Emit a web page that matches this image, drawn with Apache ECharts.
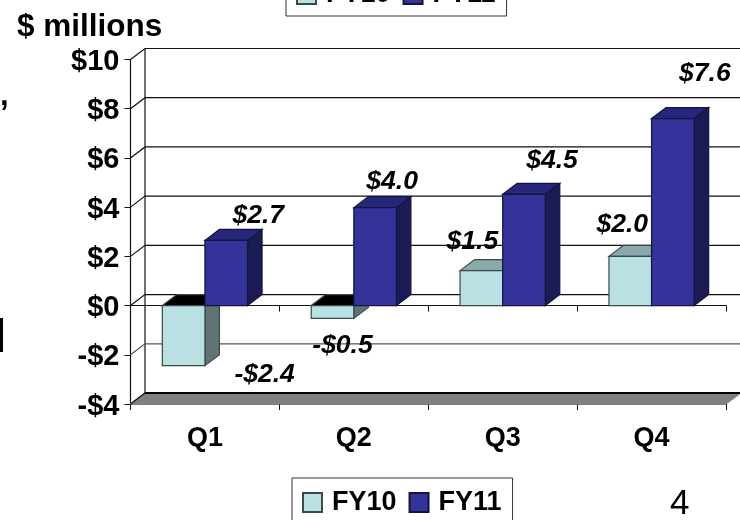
<!DOCTYPE html>
<html>
<head>
<meta charset="utf-8">
<style>
  html, body { margin: 0; padding: 0; background: #fff; }
  #chart { width: 740px; height: 520px; }
</style>
<script src="https://cdn.jsdelivr.net/npm/echarts@6/dist/echarts.min.js"></script>
</head>
<body>
<div id="chart"></div>
<script>
// data
const quarters = ['Q1', 'Q2', 'Q3', 'Q4'];
const fy10Values = [-2.44, -0.52, 1.42, 2.0];
const fy11Values = [2.65, 3.98, 4.52, 7.6];
const fy10Labels = ['-$2.4', '-$0.5', '$1.5', '$2.0'];
const fy11Labels = ['$2.7', '$4.0', '$4.5', '$7.6'];
const yTicks = [-4, -2, 0, 2, 4, 6, 8, 10];

// 3d look of the old chart
const depthX = 14.5;
const depthY = -11;
const barWidth = 42.6;
const ink = '#111';
const font = 'Liberation Sans, Arial, sans-serif';

// label offsets from the bar's top centre, quarter by quarter
const fy10LabelOffsets = [[81, 9], [10, 27], [-9, -29], [-8, -32]];
const fy11LabelOffsets = [[32, -25], [17, -26], [28, -34], [32, -45]];

const boxPath = (x0, x1, y0, y1, dx, dy) => ({
  front: [[x0, y0], [x1, y0], [x1, y1], [x0, y1]],
  top: [[x0, y0], [x0 + dx, y0 + dy], [x1 + dx, y0 + dy], [x1, y0]],
  side: [[x1, y0], [x1 + dx, y0 + dy], [x1 + dx, y1 + dy], [x1, y1]],
});

const poly = (points, fill, stroke) => ({
  type: 'polygon',
  shape: { points: points },
  style: { fill: fill, stroke: stroke, lineWidth: 1.2 },
});

const barSeries = (name, values, labels, offsets, shift, colors) => ({
  name: name,
  type: 'custom',
  z: shift < 0 ? 3 : 4,
  itemStyle: { color: colors.front, borderColor: colors.line, borderWidth: 1 },
  encode: { x: 0, y: 1 },
  data: values.map((v, i) => [i, v]),
  renderItem: (params, api) => {
    const i = api.value(0);
    const v = api.value(1);
    const centre = api.coord([i, v]);
    const zero = api.coord([i, 0]);
    const x0 = centre[0] + (shift < 0 ? -barWidth : 0);
    const x1 = x0 + barWidth;
    // the face on top sits at the higher of the two ends of the bar
    const yHigh = Math.min(centre[1], zero[1]);
    const yLow = Math.max(centre[1], zero[1]);
    const box = boxPath(x0, x1, yHigh, yLow, depthX, depthY);
    const off = offsets[i];
    return {
      type: 'group',
      children: [
        poly(box.side, colors.side, colors.line),
        poly(box.top, v < 0 ? '#000' : colors.top, colors.line),
        poly(box.front, colors.front, colors.line),
        {
          type: 'text',
          z2: 50,
          style: {
            text: labels[i],
            x: (x0 + x1) / 2 + off[0],
            y: centre[1] + off[1],
            fill: '#000',
            font: 'italic bold 26.5px ' + font,
            align: 'center',
            verticalAlign: 'middle',
          },
        },
      ],
    };
  },
});

const chart = echarts.init(document.getElementById('chart'), null, { renderer: 'canvas' });

const legendBase = {
  orient: 'horizontal',
  itemWidth: 19,
  itemHeight: 19,
  itemGap: 12,
  padding: [11, 11, 8, 10],
  borderColor: '#333',
  borderWidth: 1,
  backgroundColor: '#fff',
  icon: 'rect',
  textStyle: { fontFamily: font, fontWeight: 'bold', fontSize: 27, color: '#000', padding: [2, 0, 0, 5] },
  data: ['FY10', 'FY11'],
};

chart.setOption({
  animation: false,
  backgroundColor: '#fff',
  textStyle: { fontFamily: font },
  grid: { left: 130.5, right: 14, top: 59.5, bottom: 116, containLabel: false },
  legend: [
    Object.assign({}, legendBase, { left: 286, top: -30 }),
    Object.assign({}, legendBase, { left: 292, top: 478 }),
  ],
  xAxis: [
    {
      // the visible labels along the bottom
      type: 'category',
      data: quarters,
      position: 'bottom',
      axisLine: { onZero: false, lineStyle: { color: '#777' } },
      axisTick: { show: true, length: 6, alignWithLabel: false, lineStyle: { color: ink } },
      axisLabel: { color: '#000', fontSize: 27, fontWeight: 'bold', fontFamily: font, margin: 21 },
      splitLine: { show: false },
    },
    {
      // the same axis again at the zero line, ticks only
      type: 'category',
      data: quarters,
      position: 'bottom',
      axisLine: { onZero: true, lineStyle: { color: ink, width: 1.2 } },
      axisTick: { show: true, length: 6, lineStyle: { color: ink } },
      axisLabel: { show: false },
      splitLine: { show: false },
    },
  ],
  yAxis: {
    type: 'value',
    min: -4,
    max: 10,
    interval: 2,
    axisLine: { show: true, onZero: false, lineStyle: { color: ink, width: 1.2 } },
    axisTick: { show: true, length: 6, lineStyle: { color: ink } },
    axisLabel: {
      margin: 11,
      formatter: (v) => '{t|' + (v < 0 ? '-$' + -v : '$' + v) + '}',
      rich: {
        // nudged down a little so the text centres on its tick
        t: { color: '#000', fontSize: 29, fontWeight: 'bold', fontFamily: font, padding: [5, 0, 0, 0] },
      },
    },
    splitLine: { show: false },
  },
  graphic: [
    { type: 'text', left: 17, top: 11, style: { text: '$ millions', fill: '#000', font: 'bold 31.5px ' + font } },
    { type: 'text', left: 670, top: 487, style: { text: '4', fill: '#000', font: '35px ' + font } },
    // bits of the slide text that the crop cut off on the left
    { type: 'text', left: 0, top: 81, style: { text: ',', fill: '#000', font: 'bold 31px ' + font } },
    { type: 'rect', shape: { x: 0, y: 318, width: 3, height: 34 }, style: { fill: '#000' } },
  ],
  series: [
    {
      // walls and floor behind the bars, one item per y tick
      type: 'custom',
      z: 1,
      silent: true,
      legendHoverLink: false,
      data: yTicks.map((t) => [0, t]),
      encode: { x: 0, y: 1 },
      renderItem: (params, api) => {
        const t = api.value(1);
        const p = api.coord([0, t]);
        const left = params.coordSys.x;
        const right = left + params.coordSys.width;
        const children = [];
        const y = p[1];
        if (t === -4) {
          // floor, heavy along its back edge
          children.push(poly([
            [left, y], [left + depthX, y + depthY], [right + depthX, y + depthY], [right, y],
          ], '#808080', '#808080'));
          children.push({
            type: 'line',
            shape: { x1: left, y1: y, x2: left + depthX, y2: y + depthY },
            style: { stroke: ink, lineWidth: 1.2 },
          });
          children.push({
            type: 'line',
            shape: { x1: left + depthX, y1: y + depthY, x2: right + depthX, y2: y + depthY },
            style: { stroke: '#000', lineWidth: 2 },
          });
          const top = api.coord([0, 10])[1];
          children.push({
            type: 'line',
            shape: { x1: left + depthX, y1: top + depthY, x2: left + depthX, y2: y + depthY },
            style: { stroke: ink, lineWidth: 1.2 },
          });
        } else {
          children.push({
            type: 'polyline',
            shape: { points: [[left, y], [left + depthX, y + depthY], [right + depthX, y + depthY]] },
            style: { stroke: t === -2 ? '#555' : ink, lineWidth: 1.2, fill: 'none' },
          });
        }
        return { type: 'group', children: children };
      },
    },
    barSeries('FY10', fy10Values, fy10Labels, fy10LabelOffsets, -1, {
      front: '#b9e0e3', top: '#8ba8aa', side: '#5f7374', line: '#3a4a4b',
    }),
    barSeries('FY11', fy11Values, fy11Labels, fy11LabelOffsets, 1, {
      front: '#333399', top: '#26267a', side: '#1c1c55', line: '#14143c',
    }),
  ],
});
</script>
</body>
</html>
